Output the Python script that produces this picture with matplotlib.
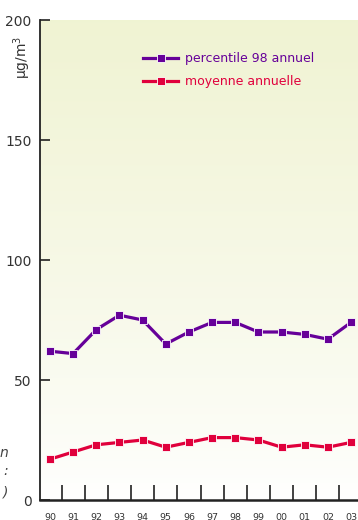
import matplotlib
matplotlib.use('Agg')
import matplotlib.pyplot as plt
import numpy as np

years = ['90', '91', '92', '93', '94', '95', '96', '97', '98', '99', '00', '01', '02', '03']
p98 = [62, 61, 71, 77, 75, 65, 70, 74, 74, 70, 70, 69, 67, 74]
moyenne = [17, 20, 23, 24, 25, 22, 24, 26, 26, 25, 22, 23, 22, 24]

purple = '#660099'
red = '#E0003C'

fig = plt.figure(figsize=(3.58, 5.2), dpi=100)
ax = fig.add_axes([40 / 358, 20 / 520, 318 / 358, 480 / 520])

x = np.arange(len(years))
ax.set_xlim(-0.43, 13.3)
ax.set_ylim(0, 200)

# background gradient: pale yellow-green at top fading to white
grad = np.linspace(0, 1, 256).reshape(-1, 1) ** 0.8
top = np.array([0.941, 0.953, 0.827])
bot = np.array([1.0, 1.0, 1.0])
img = bot + (top - bot) * grad[:, :, None]
ax.imshow(img, extent=[-0.43, 13.3, 0, 200], origin='lower', aspect='auto', zorder=0)

ax.plot(x, p98, color=purple, lw=2.3, marker='s', ms=6, mec='white', mew=0.6,
        label='percentile 98 annuel', zorder=3)
ax.plot(x, moyenne, color=red, lw=2.3, marker='s', ms=6, mec='white', mew=0.6,
        label='moyenne annuelle', zorder=3)

for s in ['top', 'right']:
    ax.spines[s].set_visible(False)
ax.spines['left'].set_linewidth(1.3)
ax.spines['bottom'].set_linewidth(1.8)
ax.spines['left'].set_color('#222222')
ax.spines['bottom'].set_color('#222222')

ax.set_yticks([0, 50, 100, 150, 200])
ax.tick_params(axis='y', direction='in', length=7, width=1.2, labelsize=10,
               labelcolor='#333333', pad=6, color='#222222')

ax.set_xticks(x[:-1] + 0.5)
ax.set_xticklabels([])
ax.set_xticks(x, minor=True)
ax.set_xticklabels(years, minor=True)
ax.tick_params(axis='x', which='major', direction='in', length=11, width=1.2, color='#222222')
ax.tick_params(axis='x', which='minor', length=0, labelsize=6.8, pad=9, labelcolor='#333333')

fig.text(22 / 358, 1 - 57 / 520, 'µg/m$^3$', rotation=90, ha='center', va='center',
         fontsize=10, color='#333333')

leg = ax.legend(loc='upper left', bbox_to_anchor=(0.29, 0.957), frameon=False,
                fontsize=9, handlelength=2.8, handletextpad=0.5, labelspacing=0.8)
for t, c in zip(leg.get_texts(), [purple, red]):
    t.set_color(c)

# side note cut by the left edge in the original
for yy, s in [(453, 'n'), (471, ':'), (492, ')')]:
    fig.text(8 / 358, 1 - yy / 520, s, ha='right', va='center', fontsize=10,
             style='italic', color='#444444')

fig.savefig('out.png', dpi=100)
